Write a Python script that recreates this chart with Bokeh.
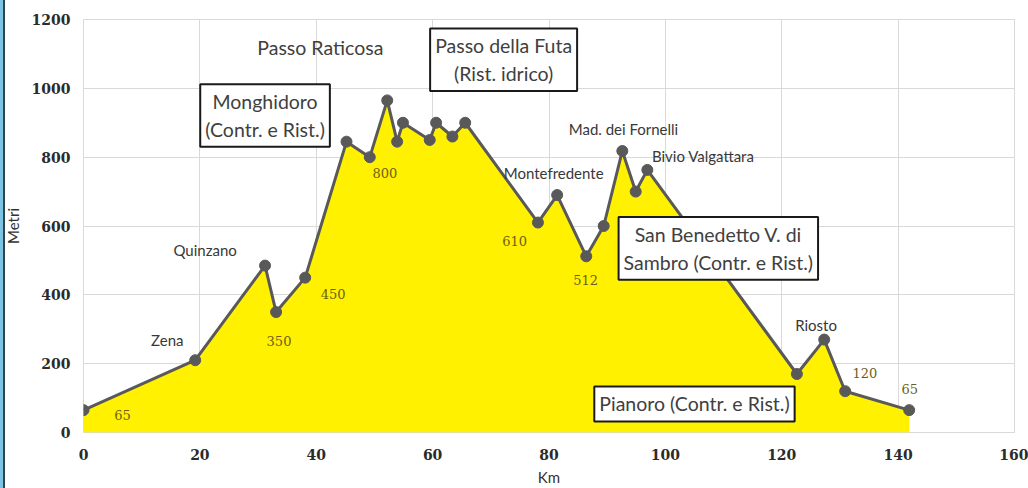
from bokeh.plotting import figure
from bokeh.models import Range1d, SingleIntervalTicker, Label
from bokeh.embed import file_html
from bokeh.resources import INLINE

# ---- data ----
km = [0, 19.2, 31.2, 33.1, 38.1, 45.2, 49.2, 52.2, 53.9, 54.9, 59.5, 60.6, 63.4,
      65.6, 78.1, 81.4, 86.4, 89.4, 92.6, 94.9, 96.9, 122.6, 127.3, 130.9, 141.9]
metri = [65, 210, 485, 350, 450, 845, 800, 965, 845, 900, 850, 900, 860,
         900, 610, 690, 512, 600, 818, 700, 763, 170, 270, 120, 65]

x_ticks_interval = 20
y_ticks_interval = 200

# place names and altitude labels (text, km, metri anchor)
place_names = [("Zena", 14.4, 268), ("Quinzano", 20.9, 529), ("Montefredente", 80.8, 755),
               ("Mad. dei Fornelli", 92.8, 883), ("Bivio Valgattara", 106.5, 804),
               ("Riosto", 125.9, 312)]
alt_labels = [("65", 6.7, 51), ("350", 33.6, 266), ("450", 42.9, 402), ("800", 51.8, 755),
              ("610", 74.1, 555), ("512", 86.3, 442), ("120", 134.3, 174), ("65", 142.0, 127)]
boxed_notes = [("Monghidoro\n(Contr. e Rist.)", 31.2, 921),
               ("Passo della Futa\n(Rist. idrico)", 72.2, 1083),
               ("San Benedetto V. di\nSambro (Contr. e Rist.)", 109.1, 535),
               ("Pianoro (Contr. e Rist.)", 105.0, 83)]
free_notes = [("Passo Raticosa", 40.7, 1118)]

p = figure(width=1028, height=488, output_backend="svg", toolbar_location=None,
           x_range=Range1d(0, 160), y_range=Range1d(0, 1200),
           min_border_left=81, min_border_right=14, min_border_top=19, min_border_bottom=55)

p.background_fill_color = "white"
p.border_fill_color = None
p.outline_line_color = "#d9d9d9"

p.varea(x=km, y1=0, y2=metri, fill_color="#fff100")
p.line(km, metri, line_color="#595959", line_width=3)
p.scatter(km, metri, size=11, fill_color="#595959", line_color="#595959")

p.xaxis.ticker = SingleIntervalTicker(interval=x_ticks_interval)
p.yaxis.ticker = SingleIntervalTicker(interval=y_ticks_interval)
for ax in (p.xaxis[0], p.yaxis[0]):
    ax.axis_line_color = None
    ax.major_tick_line_color = None
    ax.minor_tick_line_color = None
    ax.major_tick_out = 0
    ax.major_tick_in = 0
    ax.minor_tick_out = 0
    ax.minor_tick_in = 0
    ax.major_label_text_font = "DejaVu Serif"
    ax.major_label_text_font_style = "bold"
    ax.major_label_text_font_size = "14px"
    ax.major_label_text_color = "#2b2b2b"
    ax.axis_label_text_font = "Lato"
    ax.axis_label_text_font_style = "normal"
    ax.axis_label_text_font_size = "15px"
    ax.axis_label_text_color = "#333333"
p.xaxis.axis_label = "Km"
p.yaxis.axis_label = "Metri"
p.xaxis.major_label_standoff = 16
p.xaxis.axis_label_standoff = 5
p.yaxis.major_label_standoff = 13
p.yaxis.axis_label_standoff = 7

p.xgrid.grid_line_color = "#d9d9d9"
p.ygrid.grid_line_color = "#d9d9d9"

for t, x, y in place_names:
    p.add_layout(Label(x=x, y=y, text=t, text_align="center", text_baseline="middle",
                       text_font="Lato", text_font_size="15px", text_color="#383838"))
for t, x, y in alt_labels:
    p.add_layout(Label(x=x, y=y, text=t, text_align="center", text_baseline="middle",
                       text_font="DejaVu Serif", text_font_size="13px", text_color="#6e5e1a"))
for t, x, y in free_notes:
    p.add_layout(Label(x=x, y=y, text=t, text_align="center", text_baseline="middle",
                       text_font="Lato", text_font_size="19.5px", text_color="#404040"))
for t, x, y in boxed_notes:
    p.add_layout(Label(x=x, y=y, text=t, text_align="center", text_baseline="middle",
                       text_font="Lato", text_font_size="19.5px", text_color="#404040",
                       text_line_height=1.2,
                       background_fill_color="white", border_line_color="#1a1a1a",
                       border_line_width=2, padding=(5, 6)))

html = file_html(p, INLINE)
html = html.replace("</head>", "<style>body{background:linear-gradient(to right,"
                    "#7cc4e2 0px,#7cc4e2 3px,#2e4450 3px,#2e4450 5px,#ffffff 5px);}</style></head>", 1)
open("out.html", "w").write(html)
